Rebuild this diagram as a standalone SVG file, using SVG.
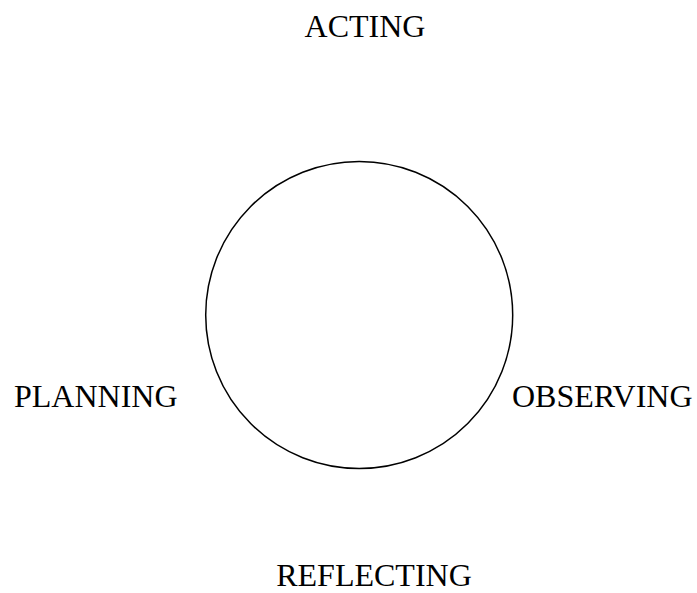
<svg xmlns="http://www.w3.org/2000/svg" width="697" height="593" viewBox="0 0 697 593">
<style>
.lbl{font-family:"Liberation Serif","Times New Roman",serif;font-size:32px;fill:#000}
.c{fill:none;stroke:#000;stroke-width:1.5}
</style>
<rect width="697" height="593" fill="#fff"/>
<g id="cycle"><circle class="c" cx="359.2" cy="315" r="153.5"/></g>
<g id="connectors"></g>
<g id="acting"><text class="lbl" x="365" y="37" text-anchor="middle">ACTING</text></g>
<g id="planning"><text class="lbl" x="14" y="407">PLANNING</text></g>
<g id="observing"><text class="lbl" x="512" y="407">OBSERVING</text></g>
<g id="reflecting"><text class="lbl" x="374" y="586" text-anchor="middle">REFLECTING</text></g>
</svg>
